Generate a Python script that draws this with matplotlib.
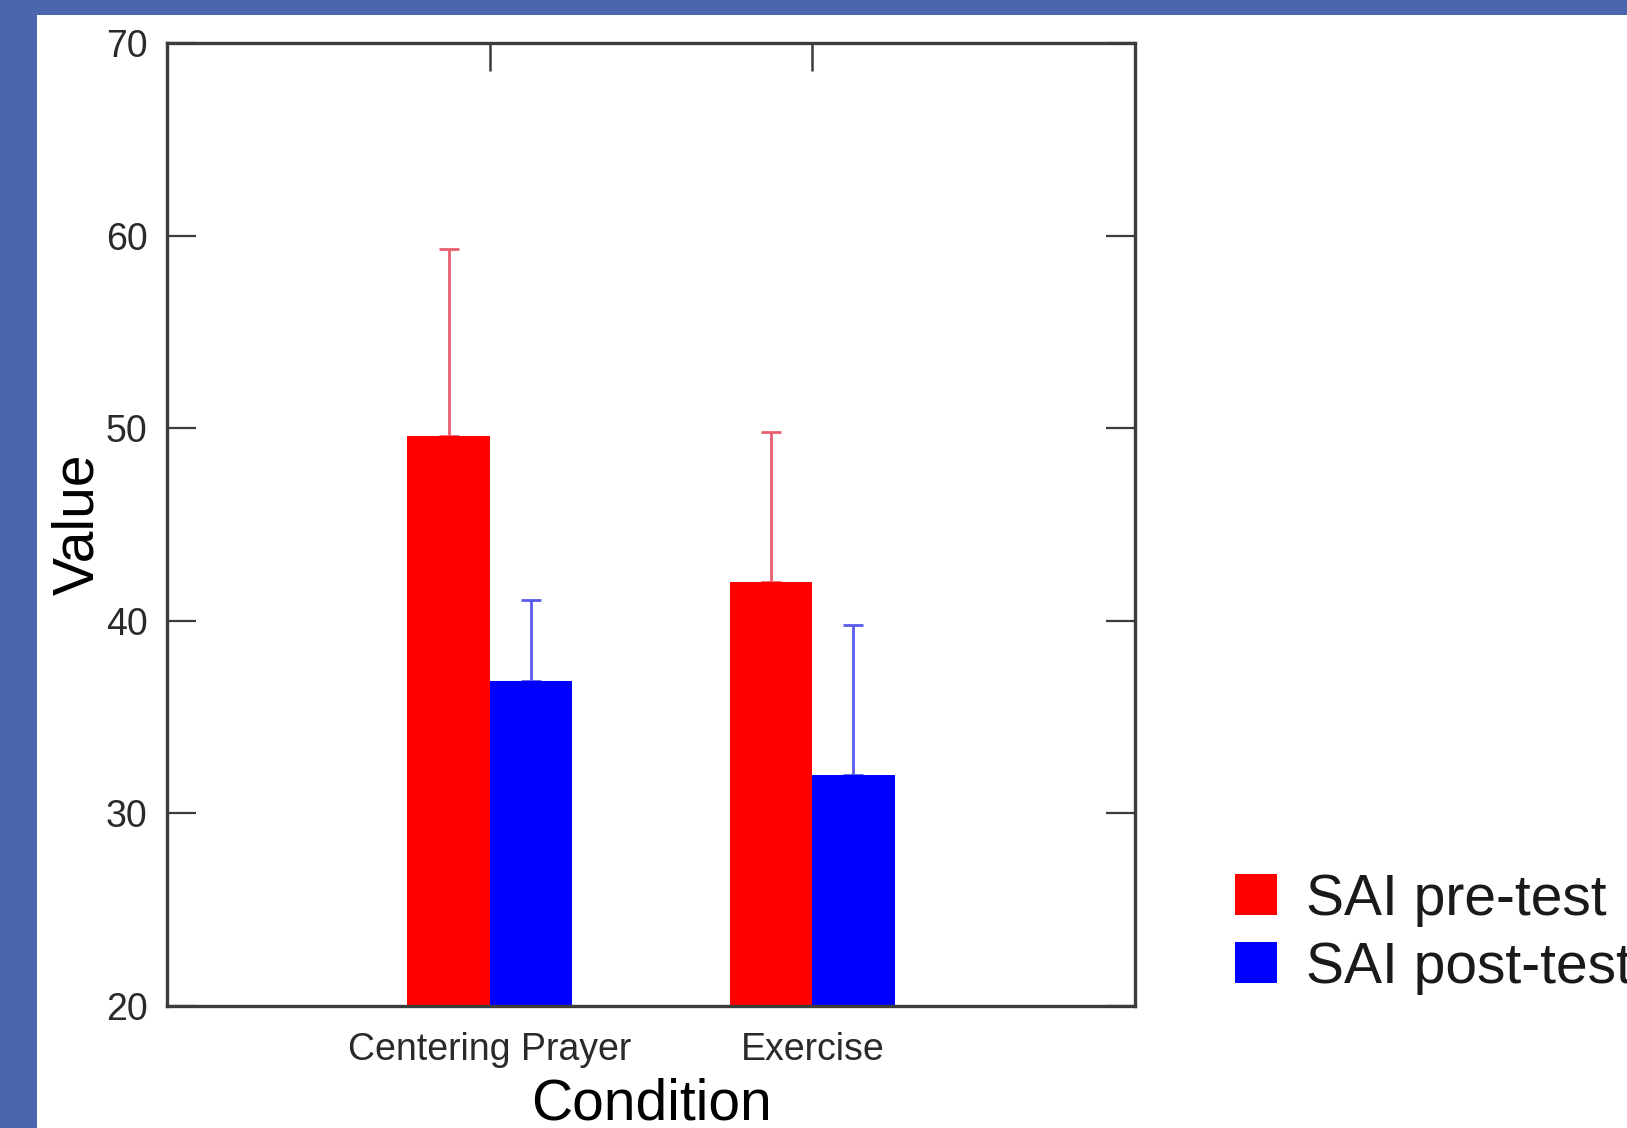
import matplotlib
matplotlib.use("Agg")
import matplotlib.pyplot as plt
from matplotlib.patches import Rectangle
import numpy as np

# ---- data ----
categories = ["Centering Prayer", "Exercise"]
series_labels = ["SAI pre-test", "SAI post-test"]
pre_values = [49.6, 42.0]
pre_errors = [9.7, 7.8]
post_values = [36.9, 32.0]
post_errors = [4.2, 7.8]
y_ticks = [20, 30, 40, 50, 60, 70]

bar_colors = ["#ff0000", "#0000ff"]
err_colors = ["#e8606e", "#5a5aee"]
frame_blue = "#4966ae"

W, H = 1627, 1128
plt.rcParams['font.family'] = ['Liberation Sans', 'DejaVu Sans']
fig = plt.figure(figsize=(W / 100, H / 100), dpi=100)
fig.patch.set_facecolor("white")

# blue frame (left and top band)
fig.patches.append(Rectangle((0, 0), 37 / W, 1, transform=fig.transFigure,
                             facecolor=frame_blue, edgecolor="none", zorder=0))
fig.patches.append(Rectangle((0, 1 - 15 / H), 1, 15 / H, transform=fig.transFigure,
                             facecolor=frame_blue, edgecolor="none", zorder=0))

left, right, top, bottom = 167, 1135, 43, 1006
ax = fig.add_axes([left / W, 1 - bottom / H, (right - left) / W, (bottom - top) / H])

x = np.arange(1, len(categories) + 1)
bw = 0.255
series = [(pre_values, pre_errors), (post_values, post_errors)]
offsets = [-bw / 2, bw / 2]
for (vals, errs), off, bc, ec, lab in zip(series, offsets, bar_colors, err_colors, series_labels):
    ax.bar(x + off, vals, width=bw, bottom=0, color=bc, edgecolor="none", zorder=2, label=lab)
    ax.errorbar(x + off, vals, yerr=[np.zeros(len(errs)), errs], fmt="none",
                ecolor=ec, elinewidth=2.0, capsize=7, capthick=2.0, zorder=1)

ax.set_xlim(0, 3)
ax.set_ylim(20, 70)
ax.set_yticks(y_ticks)
ax.set_yticklabels([str(t) for t in y_ticks])
ax.set_xticks(x)
ax.set_xticklabels(categories)

spine_col = "#3c3c3c"
for s in ax.spines.values():
    s.set_color(spine_col)
    s.set_linewidth(2.4)

ax.tick_params(axis="y", direction="in", left=True, right=True, length=21,
               width=1.6, color=spine_col, labelsize=27, pad=14, labelcolor="#2a2a2a")
ax.tick_params(axis="x", direction="in", bottom=False, top=True, length=20,
               width=1.8, color=spine_col, labelsize=27, pad=19, labelcolor="#2a2a2a",
               labelbottom=True, labeltop=False)

ax.set_ylabel("Value", fontsize=41, va="center")
ax.yaxis.set_label_coords((78 - left) / (right - left), 0.5)
ax.set_xlabel("Condition", fontsize=41, va="baseline")
ax.xaxis.set_label_coords(0.5, -(1119 - bottom) / (bottom - top))

# legend (manual, clipped by figure edge as in reference)
sq_tops = [874, 942]
baselines = [915, 983]
for lab, col, t, b in zip(series_labels, bar_colors, sq_tops, baselines):
    fig.patches.append(Rectangle((1235 / W, 1 - (t + 41) / H), 42 / W, 41 / H,
                                 transform=fig.transFigure, facecolor=col,
                                 edgecolor="none"))
    fig.text(1306 / W, 1 - b / H, lab, fontsize=41, va="baseline", ha="left",
             color="#1a1a1a")

fig.savefig("out.png", dpi=100)
